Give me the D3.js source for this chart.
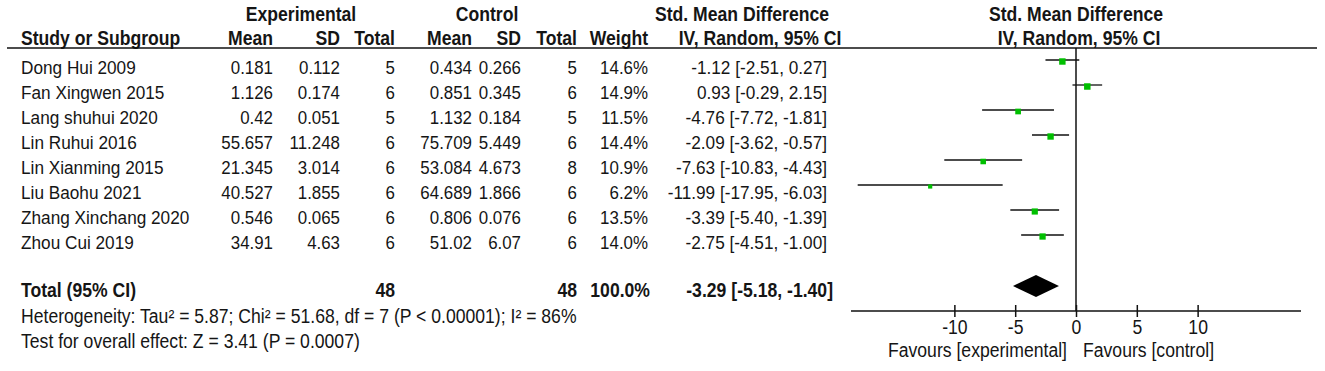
<!DOCTYPE html>
<html><head><meta charset="utf-8">
<script src="https://cdn.jsdelivr.net/npm/d3@7"></script>
<style>html,body{margin:0;padding:0;background:#fff;}svg{display:block;}</style>
</head><body>
<script>
const studies = ["Dong Hui 2009","Fan Xingwen 2015","Lang shuhui 2020","Lin Ruhui 2016","Lin Xianming 2015","Liu Baohu 2021","Zhang Xinchang 2020","Zhou Cui 2019"];
const expMean = [0.181,1.126,0.42,55.657,21.345,40.527,0.546,34.91];
const expSD = [0.112,0.174,0.051,11.248,3.014,1.855,0.065,4.63];
const expN = [5,6,5,6,6,6,6,6];
const ctlMean = [0.434,0.851,1.132,75.709,53.084,64.689,0.806,51.02];
const ctlSD = [0.266,0.345,0.184,5.449,4.673,1.866,0.076,6.07];
const ctlN = [5,6,5,6,8,6,6,6];
const weights = [14.6,14.9,11.5,14.4,10.9,6.2,13.5,14.0];
const smd = [-1.12,0.93,-4.76,-2.09,-7.63,-11.99,-3.39,-2.75];
const ciLow = [-2.51,-0.29,-7.72,-3.62,-10.83,-17.95,-5.40,-4.51];
const ciHigh = [0.27,2.15,-1.81,-0.57,-4.43,-6.03,-1.39,-1.00];
const totalExpN = 48, totalCtlN = 48, totalWeight = 100.0;
const totalSmd = -3.29, totalLow = -5.18, totalHigh = -1.40;
const axisTicks = [-10,-5,0,5,10];
const axisDomain = [-18.5,18.5];
const heterogeneity = "Heterogeneity: Tau\u00B2 = 5.87; Chi\u00B2 = 51.68, df = 7 (P < 0.00001); I\u00B2 = 86%";
const overall = "Test for overall effect: Z = 3.41 (P = 0.0007)";
const favLeft = "Favours [experimental]", favRight = "Favours [control]";

const W = 1325, H = 371;
const FONT = "'Liberation Sans', Arial, sans-serif";
const FS = 17.6;
const FSN = 16.9;
const SY = 1.1;
const TXT = "#151515";
const svg = d3.select("body").append("svg").attr("width", W).attr("height", H);

function text(x, y, s, anchor, bold, size) {
  svg.append("text").attr("x", 0).attr("y", 0).text(s)
    .attr("transform", `translate(${x},${y}) scale(1,${SY})`)
    .attr("text-anchor", anchor || "start")
    .attr("font-family", FONT).attr("font-size", size || FS)
    .attr("font-weight", bold ? "bold" : "normal")
    .attr("fill", TXT);
}

// Column right edges
const col = {study: 21, eMean: 273, eSD: 340, eN: 395, cMean: 472, cSD: 521, cN: 577, w: 648, ci: 827};

// headers
text(301, 21, "Experimental", "middle", true);
text(487, 21, "Control", "middle", true);
text(742, 21, "Std. Mean Difference", "middle", true);
text(1076, 21, "Std. Mean Difference", "middle", true);
text(col.study, 45, "Study or Subgroup", "start", true);
text(col.eMean, 45, "Mean", "end", true);
text(col.eSD, 45, "SD", "end", true);
text(col.eN, 45, "Total", "end", true);
text(col.cMean, 45, "Mean", "end", true);
text(col.cSD, 45, "SD", "end", true);
text(col.cN, 45, "Total", "end", true);
text(col.w, 45, "Weight", "end", true);
text(760, 45, "IV, Random, 95% CI", "middle", true);
text(1079, 45, "IV, Random, 95% CI", "middle", true);

svg.append("line").attr("x1", 7).attr("x2", 1317).attr("y1", 48).attr("y2", 48)
  .attr("stroke", "#111").attr("stroke-width", 1.6);

const rowY = d3.scalePoint().domain(studies).range([74, 74 + 25 * (studies.length - 1)]);
const x = d3.scaleLinear().domain(axisDomain).range([851, 1301]);
const f2 = d => d.toFixed(2);

studies.forEach((s, i) => {
  const y = rowY(s);
  text(col.study, y, s, "start", false, 17.2);
  text(col.eMean, y, String(expMean[i]), "end", false, FSN);
  text(col.eSD, y, String(expSD[i]), "end", false, FSN);
  text(col.eN, y, String(expN[i]), "end", false, FSN);
  text(col.cMean, y, String(ctlMean[i]), "end", false, FSN);
  text(col.cSD, y, String(ctlSD[i]), "end", false, FSN);
  text(col.cN, y, String(ctlN[i]), "end", false, FSN);
  text(col.w, y, weights[i].toFixed(1) + "%", "end", false, FSN);
  text(col.ci, y, `${f2(smd[i])} [${f2(ciLow[i])}, ${f2(ciHigh[i])}]`, "end", false, 17.2);
});

const totalY = 297;
text(col.study, totalY, "Total (95% CI)", "start", true);
text(col.eN, totalY, String(totalExpN), "end", true);
text(col.cN, totalY, String(totalCtlN), "end", true);
text(650, totalY, totalWeight.toFixed(1) + "%", "end", true);
text(833, totalY, `${f2(totalSmd)} [${f2(totalLow)}, ${f2(totalHigh)}]`, "end", true);
text(col.study, 323, heterogeneity, "start");
text(col.study, 348, overall, "start");

// zero line
svg.append("line").attr("x1", x(0)).attr("x2", x(0)).attr("y1", 48).attr("y2", 311)
  .attr("stroke", "#111").attr("stroke-width", 1.5);

// CI lines and squares
const g = svg.append("g");
studies.forEach((s, i) => {
  const y = rowY(s) - 14;
  g.append("line").attr("x1", x(ciLow[i])).attr("x2", x(ciHigh[i])).attr("y1", y).attr("y2", y)
    .attr("stroke", "#111").attr("stroke-width", 1.3);
  const side = 1.68 * Math.sqrt(weights[i]);
  g.append("rect").attr("x", x(smd[i]) - side / 2).attr("y", y + 1.5 - side / 2)
    .attr("width", side).attr("height", side).attr("fill", "#00bf00");
});

// diamond
const dy = 286, dh = 11;
svg.append("path")
  .attr("d", `M${x(totalLow)},${dy} L${x(totalSmd)},${dy - dh} L${x(totalHigh)},${dy} L${x(totalSmd)},${dy + dh} Z`)
  .attr("fill", "#000");

// axis
const axisY = 311;
svg.append("line").attr("x1", x(axisDomain[0])).attr("x2", x(axisDomain[1])).attr("y1", axisY).attr("y2", axisY)
  .attr("stroke", "#111").attr("stroke-width", 1.5);
const ax = svg.append("g").attr("transform", `translate(0,${axisY - 6})`)
  .call(d3.axisBottom(x).tickValues(axisTicks).tickSize(12).tickPadding(8).tickFormat(d3.format("d")));
ax.select(".domain").remove();
ax.selectAll(".tick line").attr("stroke", "#111").attr("stroke-width", 1.5);
ax.selectAll(".tick text").remove();
ax.selectAll(".tick").each(function(d) {
  d3.select(this).append("text").attr("x", 0).attr("y", 0)
    .attr("transform", `translate(0,29) scale(1,${SY})`)
    .attr("text-anchor", "middle").attr("font-family", FONT).attr("font-size", FS)
    .attr("fill", TXT).text(String(d));
});
text(1067, 357, favLeft, "end");
text(1083, 357, favRight, "start");
</script>
</body></html>
